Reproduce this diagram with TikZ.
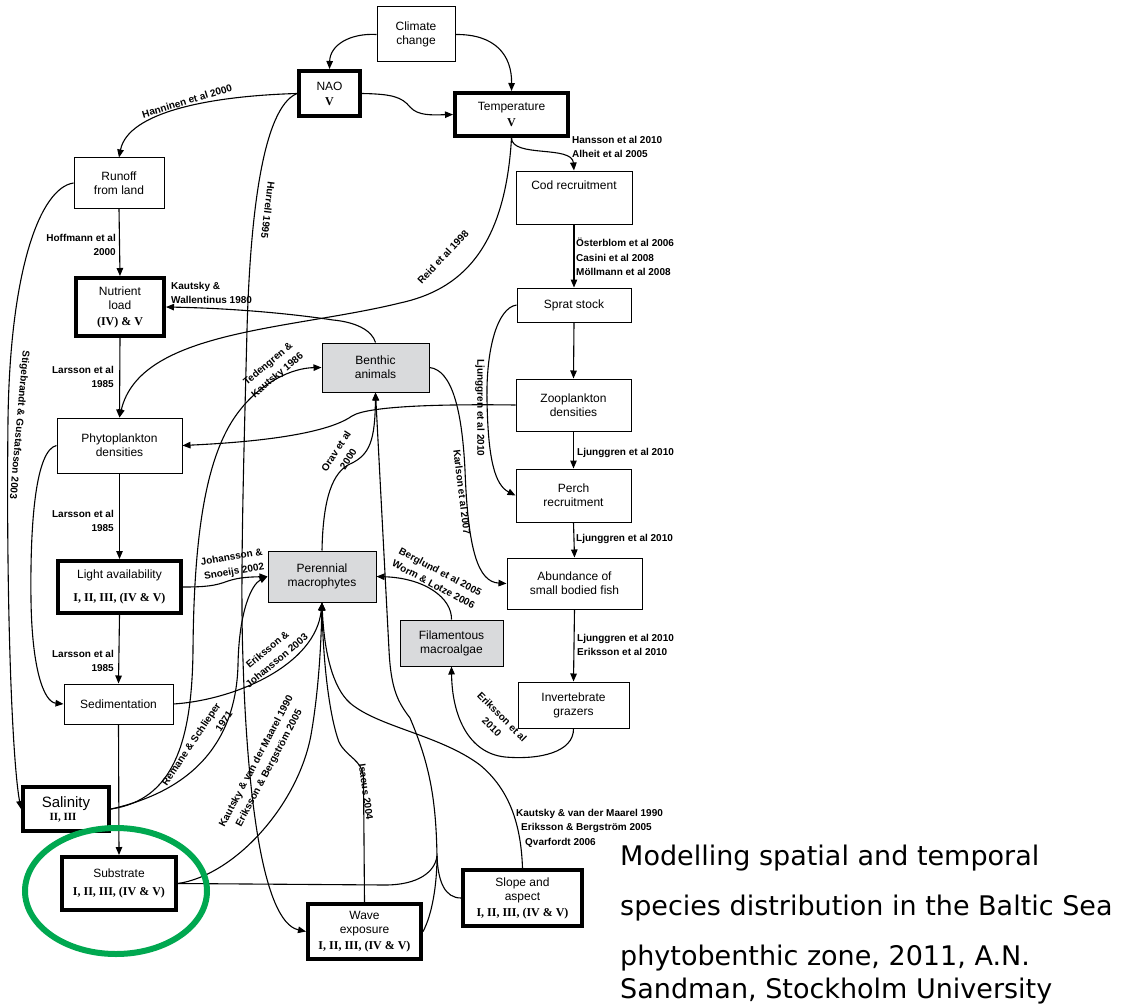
\documentclass[tikz,border=0pt]{standalone}
\usepackage{fontspec}
\usetikzlibrary{arrows.meta,calc}
\newfontfamily\arial{Liberation Sans}
\newfontfamily\tnr{Liberation Serif}
\newfontfamily\capfont{DejaVu Sans}
\newcommand\boxfont{\arial\fontsize{12}{14}\selectfont}
\newcommand\citefont{\arial\bfseries\fontsize{10}{14.5}\selectfont}
\newcommand\rmn{\tnr\bfseries\fontsize{12}{14}\selectfont}
\definecolor{boxgray}{RGB}{217,218,220}
\definecolor{ringgreen}{RGB}{0,168,80}
\begin{document}
\begin{tikzpicture}[x=1pt,y=-1pt,
  box/.style={draw=black, line width=1pt, fill=white, inner sep=0pt, align=center, font=\boxfont},
  thickbox/.style={box, line width=4pt},
  graybox/.style={box, fill=boxgray},
  conn/.style={draw=black, line width=1.1pt, -{Triangle[length=8pt,width=6.5pt]}},
  plain/.style={draw=black, line width=1.1pt},
  cite/.style={font=\citefont, inner sep=0pt, align=center},
  captext/.style={font=\capfont\fontsize{27}{30}\selectfont, anchor=base west, inner sep=0pt}]
\useasboundingbox (0,0) rectangle (1135,1006);

% ---------- nodes ----------
\node[box, minimum width=78pt, minimum height=55pt] (clim) at (416,34.5) {Climate\\change};
\node[thickbox, minimum width=61pt, minimum height=45pt] (nao) at (329.5,93.5) {NAO\\[1pt]{\rmn V}};
\node[thickbox, minimum width=113pt, minimum height=43pt] (temp) at (511.5,114.5) {Temperature\\[2pt]{\rmn V}};
\node[box, minimum width=90pt, minimum height=50pt] (runoff) at (119,183) {Runoff\\from land};
\node[box, minimum width=116pt, minimum height=53pt] (cod) at (574,197.5) {};
\node[font=\boxfont, inner sep=0pt] (codtext) at (574,185) {Cod recruitment};
\node[thickbox, minimum width=88pt, minimum height=58pt] (nut) at (120,307) {Nutrient\\load\\[2pt]{\rmn (IV) \& V}};
\node[box, minimum width=114pt, minimum height=34pt] (sprat) at (574,305) {Sprat stock};
\node[graybox, minimum width=107pt, minimum height=49pt] (benth) at (375.5,367.5) {Benthic\\animals};
\node[box, minimum width=115pt, minimum height=52pt] (zoo) at (573.5,405) {Zooplankton\\densities};
\node[box, minimum width=125pt, minimum height=55pt] (phyto) at (119.5,445.5) {Phytoplankton\\densities};
\node[box, minimum width=115pt, minimum height=53pt] (perch) at (573.5,495.5) {Perch\\recruitment};
\node[thickbox, minimum width=123pt, minimum height=52pt] (light) at (119.5,587) {Light availability\\[9pt]{\rmn I, II, III, (IV \& V)}};
\node[graybox, minimum width=108pt, minimum height=51pt] (peren) at (322,576.5) {Perennial\\macrophytes};
\node[box, minimum width=135pt, minimum height=51pt] (abund) at (574.5,583.5) {Abundance of\\small bodied fish};
\node[graybox, minimum width=103pt, minimum height=46pt] (filam) at (451.5,643) {Filamentous\\macroalgae};
\node[box, minimum width=109pt, minimum height=40pt] (sed) at (118.5,704) {Sedimentation};
\node[box, minimum width=111pt, minimum height=46pt] (invert) at (573.5,705) {Invertebrate\\grazers};
\node[thickbox, minimum width=86pt, minimum height=44pt] (sal) at (66,809) {{\fontsize{15}{16}\selectfont Salinity}\\[-1pt]{\tnr\bfseries\fontsize{11}{12}\selectfont II, III}\hspace*{6pt}};
\node[thickbox, minimum width=114pt, minimum height=53pt] (subst) at (119,883.5) {Substrate\\[4pt]{\rmn I, II, III, (IV \& V)}};
\node[thickbox, minimum width=113pt, minimum height=55pt] (wave) at (364.5,931.5) {Wave\\exposure\\[2pt]{\rmn I, II, III, (IV \& V)}};
\node[thickbox, minimum width=119pt, minimum height=56pt] (slope) at (522.5,898) {Slope and\\aspect\\[2pt]{\rmn I, II, III, (IV \& V)}};

% ---------- connectors ----------
\draw[conn] (clim.west) .. controls (350,33) and (330,45) .. (nao.north);
\draw[conn] (clim.east) .. controls (495,34) and (512,55) .. (temp.north);
\draw[conn] (nao.east) .. controls (392,94) and (402,97) .. (410,107) .. controls (418,116) and (432,115) .. (temp.west);
\draw[conn] (nao.west) .. controls (210,96) and (128,112) .. (runoff.north);
\draw[conn] (nao.west) .. controls (262,108) and (250,220) .. (247,330) .. controls (244,450) and (240,580) .. (243,660) .. controls (247,790) and (262,922) .. (wave.west);
\draw[conn] (temp.south) .. controls (512,158) and (572,145) .. (cod.north);
\draw[conn] (temp.south) .. controls (505,250) and (460,290) .. (400,303) .. controls (290,330) and (140,330) .. (phyto.north);
\draw[conn] (runoff.south) -- (nut.north);
\draw[conn] (runoff.west) .. controls (40,188) and (10,270) .. (8,420) .. controls (6,600) and (12,760) .. (sal.west);
\draw[conn] (benth.north) .. controls (372,330) and (355,322) .. (333,320) .. controls (280,312) and (220,308) .. (nut.east);
\draw[conn] (cod.south) -- (sprat.north);
\draw[conn] (sprat.south) -- (zoo.north);
\draw[conn] (sprat.west) .. controls (497,308) and (486,350) .. (487,400) .. controls (488,460) and (495,485) .. (perch.west);
\draw[conn] (zoo.west) .. controls (440,404) and (368,406) .. (352,416) .. controls (338,426) and (300,440) .. (phyto.east);
\draw[conn] (zoo.south) -- (perch.north);
\draw[conn] (perch.south) -- (abund.north);
\draw[conn] (benth.east) .. controls (452,370) and (462,410) .. (465,470) .. controls (468,550) and (478,582) .. (abund.west);
\draw[conn] (abund.south) -- (invert.north);
\draw[conn] (invert.south) .. controls (574,752) and (540,760) .. (505,757) .. controls (468,753) and (452,715) .. (filam.south);
\draw[conn] (filam.north) .. controls (452,598) and (425,578) .. (peren.east);
\draw[conn] (peren.north) .. controls (323,497) and (333,472) .. (350,464) .. controls (370,455) and (375,440) .. (benth.south);
\coordinate (j1) at (437,856);
\draw[conn] (j1) .. controls (436,800) and (430,765) .. (410,718) .. controls (398,702) and (391,690) .. (389,650) -- (benth.south);
\draw[plain] (slope.west) .. controls (445,898) and (438,882) .. (j1);
\draw[plain] (wave.east) .. controls (432,915) and (437,885) .. (j1);
\draw[plain] (subst.east) -- (385,885) .. controls (418,885) and (435,872) .. (j1);
\draw[conn] (nut.south) -- (phyto.north);
\draw[conn] (phyto.south) -- (light.north);
\draw[conn] (light.south) -- (sed.north);
\draw[conn] (sed.south) -- (subst.north);
\draw[conn] (phyto.west) .. controls (36,450) and (30,520) .. (31,600) .. controls (32,670) and (44,702) .. (sed.west);
\draw[conn] (light.east) .. controls (205,587) and (215,586) .. (228,581) .. controls (240,577) and (252,577) .. (peren.west);
\draw[conn] (sed.east) .. controls (235,700) and (316,665) .. (peren.south);
\draw[conn] (sal.east) .. controls (172,800) and (192,745) .. (193,650) .. controls (194,525) and (208,450) .. (240,410) .. controls (262,382) and (292,368) .. (benth.west);
\draw[conn] (sal.east) .. controls (195,790) and (236,740) .. (238,665) .. controls (239,610) and (252,584) .. (peren.west);
\draw[conn] (subst.east) .. controls (235,875) and (298,805) .. (311,735) .. controls (318,695) and (321,650) .. (peren.south);
\draw[conn] (wave.north) -- (363.5,778) .. controls (363,760) and (346,757) .. (339,742) .. controls (329,715) and (323,660) .. (peren.south);
\draw[conn] (slope.north) .. controls (521,825) and (510,790) .. (480,765) .. controls (440,735) and (378,727) .. (350,703) .. controls (332,687) and (324,650) .. (peren.south);

% ---------- citation labels ----------
\node[cite, rotate=17] (c1) at (187,101) {Hanninen et al 2000};
\node[cite, rotate=-97] (c2) at (268,210) {Hurrell 1995};
\node[cite, align=right, anchor=east] (c3) at (116,245) {Hoffmann et al\\2000};
\node[cite, align=left, anchor=west] (c4) at (171,293) {Kautsky \&\\Wallentinus 1980};
\node[cite, align=left, anchor=west] (c5) at (572,147) {Hansson et al 2010\\Alheit et al 2005};
\node[cite, rotate=47] (c6) at (443,257) {Reid et al 1998};
\node[cite, align=left, anchor=west] (c7) at (576,257) {Österblom et al 2006\\Casini et al 2008\\Möllmann et al 2008};
\node[cite, align=right, anchor=east] (c8) at (114,377) {Larsson et al\\1985};
\node[cite, rotate=-95] (c9) at (19,425) {Stigebrandt \& Gustafsson 2003};
\node[cite, rotate=40] (c10) at (273,370) {Tedengren \&\\Kautsky 1986};
\node[cite, rotate=57] (c11) at (342,455) {Orav et al\\2000};
\node[cite, align=right, anchor=east] (c12) at (114,521) {Larsson et al\\1985};
\node[cite, rotate=10] (c13) at (233,565) {Johansson \&\\Snoeijs 2002};
\node[cite, rotate=-90] (c14) at (480,408) {Ljunggren et al 2010};
\node[cite, anchor=west] (c15) at (577,453) {Ljunggren et al 2010};
\node[cite, rotate=-83] (c16) at (462,492) {Karlson et al 2007};
\node[cite, anchor=west] (c17) at (576,539) {Ljunggren et al 2010};
\node[cite, rotate=-28] (c18) at (437,578) {Berglund et al 2005\\Worm \& Lotze 2006};
\node[cite, align=left, anchor=west] (c19) at (577,645) {Ljunggren et al 2010\\Eriksson et al 2010};
\node[cite, align=right, anchor=east] (c20) at (114,661) {Larsson et al\\1985};
\node[cite, rotate=40] (c21) at (272,655) {Eriksson \&\\Johansson 2003};
\node[cite, rotate=56, align=right] (c22) at (197,748) {Remane \& Schlieper\\1971};
\node[cite, rotate=62] (c23) at (263,765) {Kautsky \& van der Maarel 1990\\Eriksson \& Bergström 2005};
\node[cite, rotate=-82] (c24) at (366,792) {Isaeus 2004};
\node[cite, rotate=-45] (c25) at (497,722) {Eriksson et al\\2010};
\node[cite, align=left, anchor=north west] (c26) at (516,809) {Kautsky \& van der Maarel 1990\\\hspace*{5pt}Eriksson \& Bergström 2005\\\hspace*{9pt}Qvarfordt 2006};

% ---------- highlight ring ----------
\draw[ringgreen, line width=6pt] (116,891) ellipse [x radius=91pt, y radius=63pt];

% ---------- caption ----------
\node[captext] (t1) at (620,865) {Modelling spatial and temporal};
\node[captext] (t2) at (620,915) {species distribution in the Baltic Sea};
\node[captext] (t3) at (620,965) {phytobenthic zone, 2011, A.N.};
\node[captext] (t4) at (620,998) {Sandman, Stockholm University};
\end{tikzpicture}
\end{document}
